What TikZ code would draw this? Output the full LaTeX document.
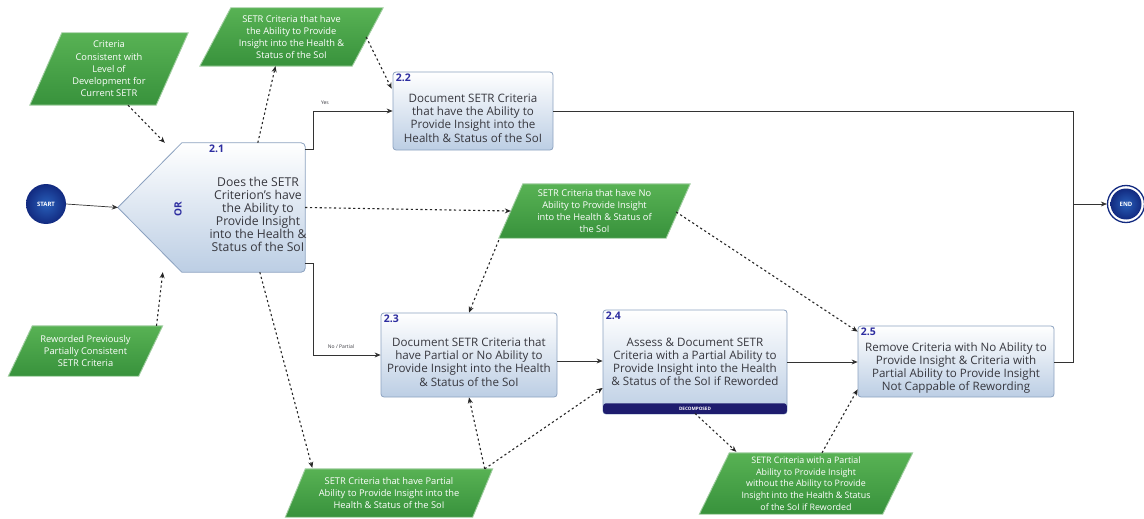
\documentclass[tikz,border=0pt]{standalone}
\usepackage{fontspec}
\setmainfont{Open Sans}
\usetikzlibrary{arrows.meta,calc,backgrounds}

\definecolor{navy}{RGB}{18,42,128}
\definecolor{navylight}{RGB}{40,95,185}
\definecolor{barnavy}{RGB}{30,28,110}
\definecolor{boxedge}{RGB}{140,162,192}
\definecolor{boxblue}{RGB}{188,206,228}
\definecolor{numblue}{RGB}{45,45,160}
\definecolor{textgray}{RGB}{55,55,62}
\definecolor{greentop}{RGB}{88,178,84}
\definecolor{greenbot}{RGB}{56,146,60}
\definecolor{greenedge}{RGB}{160,205,160}

\tikzset{
  procbox/.style={draw=boxedge, line width=0.8pt, rounded corners=3pt,
    top color=white, bottom color=boxblue, inner sep=0pt},
  proctext/.style={align=center, text=textgray, inner sep=0pt,
    font=\fontsize{11.6}{13.2}\selectfont},
  stepnum/.style={text=numblue, inner sep=0pt, anchor=north west,
    font=\bfseries\fontsize{10.5}{11}\selectfont},
  datatext/.style={align=center, text=white, inner sep=0pt,
    font=\fontsize{9.3}{12.2}\selectfont},
  datafill/.style={draw=greenedge, line width=0.9pt,
    top color=greentop, bottom color=greenbot},
  flow/.style={line width=0.7pt, draw=black!80, -{Stealth[length=6pt,width=5pt]}},
  plainflow/.style={line width=0.7pt, draw=black!80},
  dataflow/.style={line width=1.1pt, draw=black!85, dash pattern=on 2.2pt off 2.6pt,
    -{Stealth[length=6pt,width=5pt]}},
  tinylabel/.style={inner sep=0pt, text=textgray, font=\fontsize{5}{6}\selectfont},
}

% parallelogram drawn behind a named node: node name, slant
\newcommand\datashape[2]{%
  \begin{scope}[on background layer]
    \path[datafill] ($(#1.north west)+(#2,0)$) -- (#1.north east)
      -- ($(#1.south east)+(-#2,0)$) -- (#1.south west) -- cycle;
  \end{scope}}

\begin{document}
\begin{tikzpicture}[x=1pt, y=-1pt]
\useasboundingbox (0,0) rectangle (1144,519);

% ---------- start / end ----------
\node[circle, minimum size=40pt, inner sep=0pt, inner color=navylight, outer color=navy,
      text=white, font=\bfseries\fontsize{6}{7}\selectfont] (start) at (46,204) {START};

\node[circle, minimum size=37pt, inner sep=0pt, draw=navy, line width=1.3pt, fill=white] (endc) at (1126,204) {};
\node[circle, minimum size=31pt, inner sep=0pt, inner color=navylight, outer color=navy,
      text=white, font=\bfseries\fontsize{6}{7}\selectfont] (endt) at (endc) {END};

% ---------- decision 2.1 ----------
\node[minimum width=187pt, minimum height=129pt, inner sep=0pt] (dec) at (211.5,207.5) {};
\begin{scope}[on background layer]
  \path[draw=boxedge, line width=0.8pt, top color=white, bottom color=boxblue]
    (dec.west) -- ($(dec.north west)+(64,0)$) [rounded corners=4pt] -- (dec.north east)
    -- (dec.south east) [sharp corners] -- ($(dec.south west)+(64,0)$) -- cycle;
\end{scope}
\node[proctext, font=\fontsize{12.2}{13}\selectfont] (dect) at (258,214)
  {Does the SETR\\Criterion's have\\the Ability to\\Provide Insight\\into the Health \&\\Status of the SoI};
\node[stepnum] (decn) at (209,145) {2.1};
\node[text=numblue, inner sep=0pt, rotate=90, font=\bfseries\fontsize{10}{11}\selectfont] (decor) at (178,209) {OR};

% ---------- process boxes ----------
\node[procbox, minimum width=160pt, minimum height=78pt] (b22) at (473,111) {};
\node[proctext] (b22t) at (473,118)
  {Document SETR Criteria\\that have the Ability to\\Provide Insight into the\\Health \& Status of the SoI};
\node[stepnum] (b22n) at ($(b22.north west)+(3,2)$) {2.2};

\node[procbox, minimum width=176pt, minimum height=84pt] (b23) at (469,355) {};
\node[proctext] (b23t) at (469,362)
  {Document SETR Criteria that\\have Partial or No Ability to\\Provide Insight into the Health\\\& Status of the SoI};
\node[stepnum] (b23n) at ($(b23.north west)+(3,2)$) {2.3};

\node[procbox, minimum width=184pt, minimum height=104pt] (b24) at (695,362) {};
\fill[barnavy, rounded corners=2.5pt] ($(b24.south west)+(0.6,-11)$) rectangle ($(b24.south east)+(-0.6,-0.6)$);
\node[proctext] (b24t) at (695,362)
  {Assess \& Document SETR\\Criteria with a Partial Ability to\\Provide Insight into the Health\\\& Status of the SoI if Reworded};
\node[stepnum] (b24n) at ($(b24.north west)+(3,2)$) {2.4};
\node[inner sep=0pt, text=white, font=\bfseries\fontsize{4.6}{5}\selectfont] (b24d) at ($(b24.south)+(0,-5.5)$) {DECOMPOSED};

\node[procbox, minimum width=196pt, minimum height=71pt] (b25) at (956,361.5) {};
\node[proctext] (b25t) at (956,368)
  {Remove Criteria with No Ability to\\Provide Insight \& Criteria with\\Partial Ability to Provide Insight\\Not Cappable of Rewording};
\node[stepnum] (b25n) at ($(b25.north west)+(3,2)$) {2.5};

% ---------- data items ----------
\node[datatext, minimum width=158pt, minimum height=72pt] (g1) at (109,69)
  {Criteria\\Consistent with\\Level of\\Development for\\Current SETR};
\datashape{g1}{32}

\node[datatext, minimum width=183pt, minimum height=58pt] (g2) at (291.5,37)
  {SETR Criteria that have\\the Ability to Provide\\Insight into the Health \&\\Status of the SoI};
\datashape{g2}{31}

\node[datatext, minimum width=191pt, minimum height=54pt] (g3) at (594.5,211)
  {SETR Criteria that have No\\Ability to Provide Insight\\into the Health \& Status of\\the SoI};
\datashape{g3}{24}

\node[datatext, minimum width=154pt, minimum height=50pt] (g4) at (85.5,351)
  {Reworded Previously\\Partially Consistent\\SETR Criteria};
\datashape{g4}{24}

\node[datatext, minimum width=207pt, minimum height=48pt] (g5) at (389,493)
  {SETR Criteria that have Partial\\Ability to Provide Insight into the\\Health \& Status of the SoI};
\datashape{g5}{20}

\node[datatext, minimum width=213pt, minimum height=61pt, font=\fontsize{8.9}{11.8}\selectfont] (g6) at (806,483.5)
  {SETR Criteria with a Partial\\Ability to Provide Insight\\without the Ability to Provide\\Insight into the Health \& Status\\of the SoI if Reworded};
\datashape{g6}{30}

% ---------- control flow ----------
\draw[flow] (start.east) -- (dec.west);

\draw[flow] ($(dec.north east)+(0,7)$) -- ++(8,0) |- (b22.west);
\node[tinylabel] (yes) at (325,103) {Yes};

\draw[flow] ($(dec.south east)+(0,-9)$) -- ++(8,0) |- (b23.west);
\node[tinylabel] (nopartial) at (341,347) {No / Partial};

\draw[flow] ($(b23.east)+(0,6)$) -- ($(b24.west)+(0,-1)$);
\draw[flow] (b24.east) -- (b25.west |- b24.east);

\coordinate (merge) at (1073,204);
\draw[plainflow] (b22.east) -| (merge);
\draw[plainflow] ($(b25.east)+(0,0.5)$) -| (merge);
\draw[flow] (merge) -- (endc.west);

% ---------- data flow ----------
\draw[dataflow] ($(g1.south)+(19,0)$) -- ($(dec.north west)+(47,0)$);
\draw[dataflow] ($(dec.north west)+(140,0)$) -- ($(g2.south)+(-16,0)$);
\draw[dataflow] ($(g2.east)+(-17,0)$) -- ($(b22.north west)+(-1,17)$);
\draw[dataflow] ($(g4.north)+(71,0)$) -- ($(dec.south west)+(45,0)$);
\draw[dataflow] ($(dec.south west)+(142,0)$) -- ($(g5.north west)+(27,-1)$);
\draw[dataflow] (dec.east) -- ($(g3.west)+(12,0)$);
\draw[dataflow] ($(g3.south west)+(0,2)$) -- (b23.north);
\draw[dataflow] ($(g3.east)+(-14,1)$) -- ($(b25.north west)+(0,6)$);
\draw[dataflow] ($(g5.north east)+(-8,0)$) -- (b23.south);
\draw[dataflow] ($(g5.north east)+(-8,0)$) -- ($(b24.west)+(0,26)$);
\draw[dataflow] ($(b24.south)+(0,-1)$) -- ($(g6.north west)+(37,-1)$);
\draw[dataflow] ($(g6.north)+(16,0)$) -- ($(b25.south west)+(0,-8)$);

\end{tikzpicture}
\end{document}
